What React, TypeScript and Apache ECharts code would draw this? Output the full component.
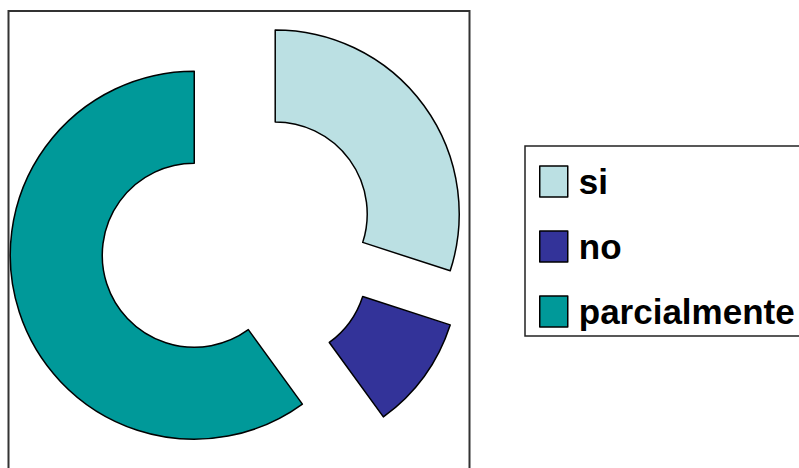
import React, { useEffect, useRef } from "react";
import * as echarts from "echarts";

const categories = ["si", "no", "parcialmente"];
const values = [30, 10, 60];
const colors = ["#BBE0E3", "#333399", "#009999"];

export default function App() {
  const ref = useRef<HTMLDivElement>(null);
  useEffect(() => {
    document.body.style.margin = "0";
    const chart = echarts.init(ref.current!, null, { renderer: "svg" });
    chart.setOption({
      animation: false,
      backgroundColor: "#ffffff",
      graphic: [
        {
          type: "rect",
          z: -10,
          shape: { x: 8.5, y: 11, width: 461, height: 470 },
          style: { fill: "none", stroke: "#333333", lineWidth: 2 },
        },
      ],
      legend: {
        orient: "vertical",
        left: 525,
        top: 146,
        icon: "rect",
        itemWidth: 28,
        itemHeight: 31,
        itemGap: 30,
        padding: [18, 30, 7, 14],
        borderColor: "#222222",
        borderWidth: 1.5,
        selectedMode: false,
        data: categories,
        itemStyle: { borderColor: "#000000", borderWidth: 1.5 },
        textStyle: {
          fontFamily: "Liberation Sans, Arial, sans-serif",
          fontWeight: "bold",
          fontSize: 35,
          lineHeight: 35,
          color: "#000000",
          padding: [0, 0, 0, 6],
        },
      },
      series: [
        {
          type: "pie",
          center: [238, 241],
          radius: [92, 184],
          startAngle: 90,
          clockwise: true,
          selectedMode: "multiple",
          selectedOffset: 46,
          label: { show: false },
          labelLine: { show: false },
          emphasis: { disabled: true },
          itemStyle: { borderColor: "#000000", borderWidth: 1.5 },
          data: categories.map((name, i) => ({
            name,
            value: values[i],
            selected: true,
            itemStyle: { color: colors[i] },
          })),
        },
      ],
    });
    return () => chart.dispose();
  }, []);
  return <div ref={ref} style={{ width: 799, height: 468 }} />;
}
